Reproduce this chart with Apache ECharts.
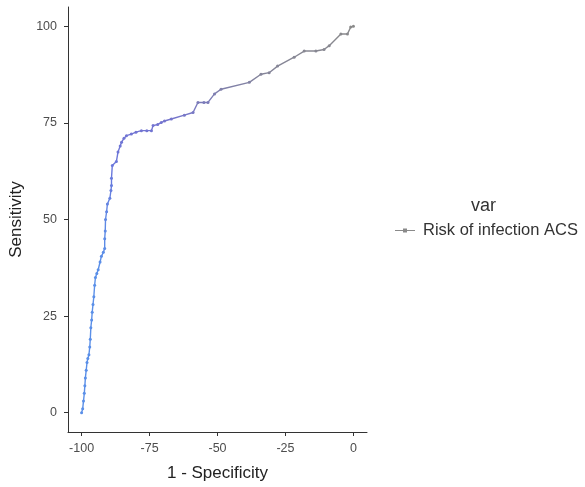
<!DOCTYPE html>
<html>
<head>
<meta charset="utf-8">
<script src="https://cdn.jsdelivr.net/npm/echarts@6/dist/echarts.min.js"></script>
<style>
  html, body { margin: 0; padding: 0; background: #fff; }
  #chart { width: 585px; height: 487px; }
</style>
</head>
<body>
<div id="chart"></div>
<script>
// ROC curve points
var specificity = [
  -100, -99.6, -99.3, -99, -98.8, -98.6, -98.3, -98, -97.7, -97.3, -97, -96.8, -96.6, -96.3, -96.1, -95.8,
  -95.5, -95.2, -94.9, -94.4, -93.9, -93.2, -92.7, -92, -91.5, -91.5, -91.3, -91.2, -90.8, -90.5, -89.6,
  -89.2, -89, -89, -88.7, -87.2, -86.6, -85.8, -85.3, -84.4, -83.5, -81.7, -80, -78, -76, -74.3,
  -73.7, -72, -70.7, -69.5, -67, -62.2, -59, -57.2, -55, -53.5, -51.1, -48.7, -38.3, -34, -31,
  -27.9, -21.8, -18.1, -13.8, -10.8, -8.9, -4.6, -2.2, -1, 0
]
var sensitivity = [
  0, 1, 3, 5, 7, 9, 11, 13, 14, 15, 17, 19, 22, 24, 26, 28,
  30, 33, 35, 36, 37, 39, 40.5, 41.5, 42.5, 45, 47, 50, 52, 54, 55.5,
  57.5, 58.8, 60.7, 64, 65, 67.5, 69, 70, 71, 71.7, 72.1, 72.6, 73, 73, 73,
  74.3, 74.6, 75.1, 75.5, 76, 77, 77.7, 80.3, 80.3, 80.3, 82.5, 83.7, 85.5, 87.6, 88,
  89.7, 92, 93.6, 93.6, 94, 95, 98, 98, 99.8, 100
]
var xTicks = [-100, -75, -50, -25, 0]
var yTicks = [0, 25, 50, 75, 100]
var seriesName = 'Risk of infection ACS'

var points = specificity.map(function (x, i) { return [x, sensitivity[i]] })

var chart = echarts.init(document.getElementById('chart'))

var font = 'Liberation Sans'
var tickLabel = { color: '#4d4d4d', fontSize: 12.5, fontFamily: font }
var axisLine = { show: true, onZero: false, lineStyle: { color: '#333', width: 1 } }
var axisTick = { show: true, length: 4, lineStyle: { color: '#333' } }

var option = {
  backgroundColor: '#fff',
  animation: false,
  grid: { left: 68, right: 218, top: 7, bottom: 54 },
  xAxis: {
    type: 'value',
    min: -105, max: 5,
    name: '1 - Specificity',
    nameLocation: 'middle',
    nameGap: 33,
    nameTextStyle: { color: '#222', fontSize: 17, fontFamily: font },
    axisLine: axisLine,
    splitLine: { show: false },
    axisLabel: Object.assign({ margin: 10, customValues: xTicks }, tickLabel),
    axisTick: Object.assign({ customValues: xTicks }, axisTick)
  },
  yAxis: {
    type: 'value',
    min: -5, max: 105,
    name: 'Sensitivity',
    nameLocation: 'middle',
    nameGap: 40,
    nameTextStyle: { color: '#222', fontSize: 17, fontFamily: font },
    axisLine: axisLine,
    splitLine: { show: false },
    axisLabel: Object.assign({ margin: 11, customValues: yTicks }, tickLabel),
    axisTick: Object.assign({ customValues: yTicks }, axisTick)
  },
  visualMap: {
    show: false,
    type: 'continuous',
    dimension: 1,
    seriesIndex: 0,
    min: 0, max: 100,
    inRange: {
      color: ['#5a8fe8', '#5a8fe8', '#5a8fe8', '#5a8fe8', '#5f88e4', '#6a78dc', '#7474d0', '#85859a', '#8a8a8a']
    }
  },
  legend: {
    left: 390,
    top: 217,
    orient: 'vertical',
    itemWidth: 20,
    itemHeight: 6,
    textStyle: { color: '#333', fontSize: 16.5, fontFamily: font, padding: [0, 0, 0, 3] },
    data: [{
      name: seriesName,
      icon: 'path://M0,3 L20,3 L20,4 L0,4 Z M8,1.5 L12,1.5 L12,5.5 L8,5.5 Z',
      itemStyle: { color: '#8a8a8a' }
    }]
  },
  graphic: [{
    type: 'text',
    left: 471,
    top: 197,
    style: { text: 'var', fill: '#333', fontSize: 18, fontFamily: font }
  }],
  series: [{
    name: seriesName,
    type: 'line',
    data: points,
    symbol: 'circle',
    symbolSize: 3,
    showSymbol: true,
    lineStyle: { width: 1.4 },
    itemStyle: { color: '#8a8a8a' }
  }]
}

chart.setOption(option)
</script>
</body>
</html>
